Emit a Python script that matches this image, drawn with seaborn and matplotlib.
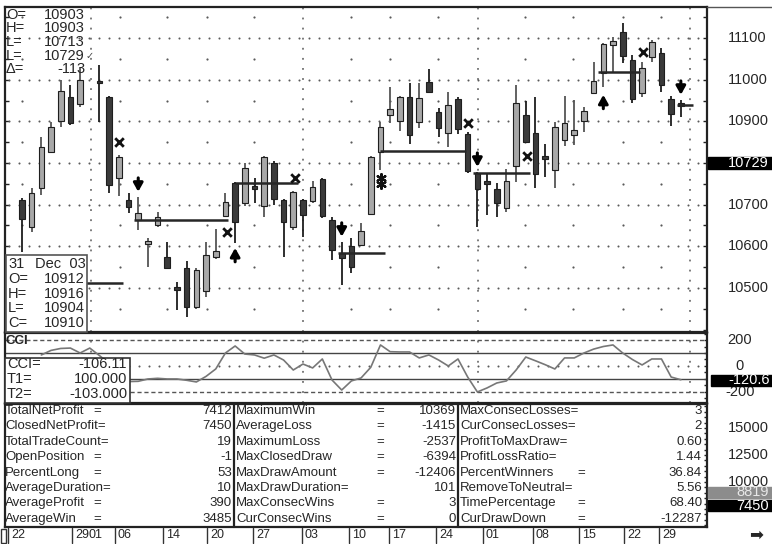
import numpy as np
import pandas as pd
import matplotlib
matplotlib.use("Agg")
import matplotlib.pyplot as plt
import matplotlib.transforms as mtrans
from matplotlib.patches import Rectangle
from matplotlib.lines import Line2D
import seaborn as sns

nan = np.nan

# Dados das velas (uma posição por sessão; a sessão 7 fica vazia)
abertura = [10712, 10647, 10740, 10827, 10901, 10959, 10942, nan, 10997, 10959,
            10764, 10712, 10663, 10605, 10651, 10575, 10500, 10548, 10454, 10493,
            10575, 10673, 10752, 10704, 10741, 10697, 10800, 10712, 10647, 10712,
            10709, 10762, 10663, 10584, 10601, 10603, 10678, 10827, 10916, 10901,
            10959, 10899, 10995, 10923, 10873, 10954, 10870, 10776, 10754, 10738,
            10692, 10793, 10916, 10873, 10817, 10784, 10856, 10868, 10901, 10969,
            11017, 11084, 11115, 11048, 10969, 11055, 11065, 10954, 10942]
maxima = [10715, 10740, 10863, 10899, 11000, 10988, 11031, nan, 11036, 10962,
          10820, 10728, 10719, 10620, 10682, 10611, 10514, 10565, 10548, 10611,
          10642, 10728, 10755, 10800, 10764, 10818, 10805, 10714, 10733, 10714,
          10757, 10764, 10670, 10611, 10620, 10656, 10818, 10899, 10983, 10962,
          10993, 10993, 11026, 10932, 10971, 10959, 10875, 10778, 10776, 10752,
          10786, 10988, 10950, 10959, 10846, 10899, 10962, 10952, 10935, 11043,
          11089, 11103, 11137, 11060, 11043, 11096, 11077, 10962, 10952]
minima = [10587, 10635, 10723, 10824, 10887, 10892, 10935, nan, 10899, 10728,
          10721, 10680, 10639, 10550, 10647, 10546, 10447, 10430, 10450, 10478,
          10570, 10671, 10608, 10697, 10704, 10670, 10700, 10575, 10640, 10623,
          10705, 10668, 10567, 10507, 10536, 10601, 10675, 10784, 10897, 10877,
          10846, 10885, 10969, 10863, 10839, 10870, 10776, 10647, 10675, 10670,
          10683, 10755, 10849, 10740, 10767, 10740, 10841, 10844, 10875, 10966,
          10983, 11019, 11041, 10945, 10959, 11043, 10971, 10889, 10911]
fechamento = [10666, 10728, 10839, 10887, 10974, 10896, 11000, nan, 10992, 10748,
              10815, 10695, 10680, 10612, 10670, 10548, 10495, 10454, 10543, 10579,
              10589, 10707, 10659, 10788, 10738, 10815, 10714, 10659, 10730, 10676,
              10743, 10673, 10591, 10572, 10550, 10637, 10815, 10887, 10930, 10959,
              10868, 10957, 10971, 10885, 10940, 10882, 10781, 10738, 10750, 10704,
              10757, 10945, 10851, 10774, 10810, 10887, 10897, 10880, 10925, 10998,
              11087, 11094, 11058, 10954, 11029, 11091, 10988, 10918, 10938]

# Linhas de entrada/saída das operações (sessão inicial, final, preço)
trade_ini = [-3, 11.6, 22.0, 32.6, 37.0, 46.6, 59.5, 67.6]
trade_fim = [10.4, 21.3, 28.5, 37.5, 45.8, 52.4, 63.8, 69.3]
trade_preco = [10512, 10663, 10753, 10584, 10829, 10776, 11019, 10940]

# Sinais
seta_baixo_sessao = [12, 33, 47, 68]
seta_baixo_preco = [10731, 10623, 10791, 10964]
seta_cima_sessao = [22, 60]
seta_cima_preco = [10596, 10964]
saida_sessao = [10, 21.2, 28.2, 46, 52.1, 64.1]
saida_preco = [10851, 10635, 10764, 10897, 10817, 11067]
estrela_sessao = [37.1, 37.1]
estrela_preco = [10764, 10750]

# CCI
cci_sessao = list(range(2, 69))
cci_valor = [85, 120, 135, 138, 100, 138, 80, 20, -60, -120,
             -118, -100, -95, -100, -100, -110, -123, -80, -23, 100,
             154, 92, 85, 60, 85, 46, -31, 15, -15, 54,
             -108, -185, -115, -92, -10, 162, 110, 108, 108, 62,
             85, 46, 0, 54, -85, -200, -169, -131, -115, -31,
             69, 40, 10, -23, 62, 62, 100, 130, 150, 162,
             100, 50, 8, 54, 54, -85, -106]

# Eixo x
meses_sessao = [7.1, 29.0, 47.06, 68.9]
semanas_sessao = [0, 10.1, 15, 19.1, 23.9, 34, 38, 42.9, 51.9, 56.9, 62, 66]
rotulos_x = ["22", "29", "01", "06", "14", "20", "27", "03", "10", "17", "24", "01", "08", "15", "22", "29"]
rotulos_pos = [-1.44, 5.16, 6.55, 9.6, 14.55, 19.09, 23.84, 28.9, 33.75, 37.87, 42.72, 47.57, 52.73, 57.48, 62.12, 65.73]
rotulos_barra = [True, True, False, True, True, True, True, True, True, True, True, True, True, True, True, True]

# Caixas de informação
info_topo_rot = ["O=", "H=", "L=", "L=", "Δ="]
info_topo_val = ["10903", "10903", "10713", "10729", "-113"]
info_dia_rot = ["O=", "H=", "L=", "C="]
info_dia_val = ["10912", "10916", "10904", "10910"]
info_cci_rot = ["CCI=", "T1=", "T2="]
info_cci_val = ["-106.11", "100.000", "-103.000"]

# Relatório de desempenho
col1_nome = ["TotalNetProfit", "ClosedNetProfit", "TotalTradeCount", "OpenPosition",
             "PercentLong", "AverageDuration", "AverageProfit", "AverageWin"]
col1_val = ["7412", "7450", "19", "-1", "53", "10", "390", "3485"]
col2_nome = ["MaximumWin", "AverageLoss", "MaximumLoss", "MaxClosedDraw",
             "MaxDrawAmount", "MaxDrawDuration", "MaxConsecWins", "CurConsecWins"]
col2_val = ["10369", "-1415", "-2537", "-6394", "-12406", "101", "3", "0"]
col3_nome = ["MaxConsecLosses", "CurConsecLosses", "ProfitToMaxDraw", "ProfitLossRatio",
             "PercentWinners", "RemoveToNeutral", "TimePercentage", "CurDrawDown"]
col3_val = ["3", "2", "0.60", "1.44", "36.84", "5.56", "68.40", "-12287"]

preco_ticks = [10500, 10600, 10700, 10800, 10900, 11000, 11100]
cci_ticks = [-200, 0, 200]
equity_ticks = [10000, 12500, 15000]

df = pd.DataFrame({"sessao": range(len(abertura)), "abertura": abertura, "maxima": maxima,
                   "minima": minima, "fechamento": fechamento}).dropna()

sns.set_style("white")
plt.rcParams['font.family'] = ['Liberation Sans', 'DejaVu Sans']

W, H = 772, 544
fig = plt.figure(figsize=(W / 100, H / 100), dpi=100)


def px_x(x):
    return x / W


def px_y(y):
    return 1 - y / H


def caixa(x0, y0, x1, y1):
    return [px_x(x0), px_y(y1), (x1 - x0) / W, (y1 - y0) / H]


def retangulo(x0, y0, x1, y1, fc, ec, lw=1.0, z=2):
    r = Rectangle((px_x(x0), px_y(y1)), (x1 - x0) / W, (y1 - y0) / H, transform=fig.transFigure,
                  facecolor=fc, edgecolor=ec, lw=lw, zorder=z)
    fig.add_artist(r)


ax_p = fig.add_axes(caixa(5, 7, 707, 332))
ax_c = fig.add_axes(caixa(5, 333, 707, 403))
ax_s = fig.add_axes(caixa(5, 404, 707, 527))

cor_grade = '#5a5a5a'
pontilhado = dict(color=cor_grade, lw=1.1, ls=(0, (1.2, 5.4)), zorder=1)

for ax in [ax_p, ax_c, ax_s]:
    ax.set_xlim(-1.75, 70.7)
    ax.set_xticks([])
    for lado in ax.spines.values():
        lado.set_color('#222222')
        lado.set_linewidth(1.6)
    ax.set_facecolor('white')

# ----- painel de preços -----
ax_p.set_ylim(10394, 11175)
ax_p.set_yticks(np.arange(10400, 11151, 50))
ax_p.tick_params(axis='y', direction='in', length=3, width=1, color='#222222', left=True, right=True,
                 labelleft=False, labelright=False)
# grade pontilhada: linhas de 100 em 100 pontos, divisões de mês e pontos nas semanas
grade_x = np.arange(-1.3, 70.5, 1.03)
for v in preco_ticks:
    ax_p.scatter(grade_x, np.full(len(grade_x), v), s=2.2, color=cor_grade, zorder=1, linewidths=0)
for s in meses_sessao:
    ax_p.axvline(s, **pontilhado)
niveis = np.arange(10450, 11151, 100)
px_sem, py_sem = np.meshgrid(semanas_sessao, niveis)
ax_p.scatter(px_sem.ravel(), py_sem.ravel(), s=2.5, color=cor_grade, zorder=1, linewidths=0)

alta = df['fechamento'] >= df['abertura']
cor_corpo = np.where(alta, '#a8a8a8', '#3a3a3a')
cor_pavio = np.where(alta, '#555555', '#1e1e1e')
ax_p.vlines(df['sessao'], df['minima'], df['maxima'], colors=cor_pavio, lw=1.3, zorder=2)
corpo = np.maximum((df['fechamento'] - df['abertura']).abs(), 6)
base = np.minimum(df['fechamento'], df['abertura'])
ax_p.bar(df['sessao'], corpo, bottom=base, width=0.58, color=cor_corpo, edgecolor='#1e1e1e',
         lw=0.8, zorder=3)

for a, b, p in zip(trade_ini, trade_fim, trade_preco):
    ax_p.plot([a, b], [p, p], color='#262626', lw=1.8, zorder=4, solid_capstyle='butt')

for s, p in zip(seta_baixo_sessao, seta_baixo_preco):
    ax_p.annotate('', xy=(s, p), xytext=(0, 10), textcoords='offset points',
                  arrowprops=dict(arrowstyle='-|>,head_width=0.28,head_length=0.5', lw=2.2,
                                  color='black', shrinkA=0, shrinkB=0), zorder=5)
for s, p in zip(seta_cima_sessao, seta_cima_preco):
    ax_p.annotate('', xy=(s, p), xytext=(0, -10), textcoords='offset points',
                  arrowprops=dict(arrowstyle='-|>,head_width=0.28,head_length=0.5', lw=2.2,
                                  color='black', shrinkA=0, shrinkB=0), zorder=5)
ax_p.scatter(saida_sessao, saida_preco, marker='x', s=38, color='#111111', linewidths=2, zorder=5)
ax_p.scatter(estrela_sessao, estrela_preco, marker=(6, 2, 0), s=40, color='#111111', linewidths=1.6, zorder=5)

# ----- painel CCI -----
ax_c.set_ylim(-285, 254)
ax_c.set_yticks(np.arange(-250, 251, 50))
ax_c.tick_params(axis='y', direction='in', length=2, width=1, color='#222222', left=False, right=True,
                 labelleft=False, labelright=False)
ax_c.axhline(200, color='#555555', lw=1, ls=(0, (3, 2)), zorder=1)
ax_c.axhline(-200, color='#555555', lw=1, ls=(0, (3, 2)), zorder=1)
ax_c.axhline(100, color='#444444', lw=1, zorder=1)
ax_c.axhline(-103, color='#444444', lw=1, zorder=1)
ax_c.scatter(grade_x, np.zeros(len(grade_x)), s=2.2, color=cor_grade, zorder=1, linewidths=0)
for s in meses_sessao:
    ax_c.axvline(s, **pontilhado)
sns.lineplot(x=cci_sessao, y=cci_valor, ax=ax_c, color='#777777', lw=1.2, zorder=3)
ax_c.set_xlabel('')
ax_c.set_ylabel('')
fig.text(px_x(6), px_y(341), "CCI", fontsize=9.5, fontweight='bold', ha='left', va='center')

# ----- painel do relatório -----
ax_s.set_ylim(5833, 17222)
ax_s.set_yticks(np.arange(6000, 17001, 500))
ax_s.tick_params(axis='y', direction='in', length=2, width=1, color='#222222', left=False, right=True,
                 labelleft=False, labelright=False)

fs = 9.5
for i in range(8):
    y = px_y(411 + i * 15.4)
    for nomes, vals, x0, xeq, xval in [(col1_nome, col1_val, 5, 93, 232),
                                       (col2_nome, col2_val, 236, 376, 456),
                                       (col3_nome, col3_val, 460, 577, 702)]:
        nome = nomes[i]
        if len(nome) >= 15:
            fig.text(px_x(x0), y, nome + "=", fontsize=fs, ha='left', va='center')
        else:
            fig.text(px_x(x0), y, nome, fontsize=fs, ha='left', va='center')
            fig.text(px_x(xeq), y, "=", fontsize=fs, ha='left', va='center')
        fig.text(px_x(xval), y, vals[i], fontsize=fs, ha='right', va='center')
for xs in [233.5, 458]:
    fig.add_artist(Line2D([px_x(xs), px_x(xs)], [px_y(404), px_y(527)], color='#222222', lw=1.6,
                          transform=fig.transFigure))

# ----- rótulos do lado direito -----
trans_p = mtrans.blended_transform_factory(fig.transFigure, ax_p.transData)
for v in preco_ticks:
    fig.text(px_x(728), v, str(v), fontsize=10.5, ha='left', va='center', transform=trans_p)
trans_c = mtrans.blended_transform_factory(fig.transFigure, ax_c.transData)
for v in cci_ticks:
    fig.text(px_x(740), v, str(v), fontsize=10.5, ha='center', va='center', transform=trans_c)
trans_s = mtrans.blended_transform_factory(fig.transFigure, ax_s.transData)
for v in equity_ticks:
    fig.text(px_x(728), v, str(v), fontsize=10.5, ha='left', va='center', transform=trans_s)

# marcadores de último valor
retangulo(708, 157, 772, 169, 'black', 'black', z=4)
fig.text(px_x(769), px_y(163), "10729", color='white', fontsize=10.5, ha='right', va='center', zorder=5)
retangulo(711, 375, 772, 386, 'black', 'black', z=4)
fig.text(px_x(770), px_y(380.5), "-120.6", color='white', fontsize=10.5, ha='right', va='center', zorder=5)
retangulo(708, 487, 772, 498, '#8c8c8c', '#8c8c8c', z=4)
fig.text(px_x(769), px_y(492.5), "8819", color='#e8e8e8', fontsize=10.5, ha='right', va='center', zorder=5)
retangulo(708, 500, 772, 511, 'black', 'black', z=4)
fig.text(px_x(769), px_y(505.5), "7450", color='white', fontsize=10.5, ha='right', va='center', zorder=5)
fig.add_artist(Line2D([px_x(707), px_x(772)], [px_y(7), px_y(7)], color='#555555', lw=1,
                      transform=fig.transFigure))

# ----- caixas de informação -----
for i, (r, v) in enumerate(zip(info_topo_rot, info_topo_val)):
    y = px_y(15 + i * 13.5)
    fig.text(px_x(6), y, r, fontsize=10.5, ha='left', va='center')
    fig.text(px_x(85), y, v, fontsize=10.5, ha='right', va='center')
fig.text(px_x(86), px_y(15 + 3 * 13.5), "✓", fontsize=7, ha='left', va='center', color='#444444')

retangulo(6, 255, 87, 332, 'white', '#555555', lw=1.2, z=3)
fig.text(px_x(8), px_y(264), "31", fontsize=10.5, ha='left', va='center', zorder=4)
fig.text(px_x(86), px_y(264), "Dec  03", fontsize=10.5, ha='right', va='center', zorder=4)
for i, (r, v) in enumerate(zip(info_dia_rot, info_dia_val)):
    y = px_y(279 + i * 14.7)
    fig.text(px_x(8), y, r, fontsize=10.5, ha='left', va='center', zorder=4)
    fig.text(px_x(85), y, v, fontsize=10.5, ha='right', va='center', zorder=4)

retangulo(5, 358, 130, 403, 'white', '#333333', lw=1.2, z=3)
for i, (r, v) in enumerate(zip(info_cci_rot, info_cci_val)):
    y = px_y(364 + i * 15)
    fig.text(px_x(7), y, r, fontsize=10.5, ha='left', va='center', zorder=4)
    fig.text(px_x(127), y, v, fontsize=10.5, ha='right', va='center', zorder=4)

# ----- eixo de datas -----
trans_x = mtrans.blended_transform_factory(ax_s.transData, fig.transFigure)
trans_txt = mtrans.offset_copy(trans_x, fig=fig, x=3, y=0, units='dots')
for rot, pos, barra in zip(rotulos_x, rotulos_pos, rotulos_barra):
    if barra:
        fig.add_artist(Line2D([pos, pos], [px_y(528), px_y(543)], color='#333333', lw=1, transform=trans_x))
    fig.text(pos, px_y(535.5), rot, fontsize=9, ha='left', va='center', transform=trans_txt)
retangulo(1, 529, 6, 543, 'white', '#333333', lw=1)
fig.text(px_x(756), px_y(535), "➡", fontsize=12, ha='center', va='center', family='DejaVu Sans')

plt.savefig('out.png', dpi=100)
